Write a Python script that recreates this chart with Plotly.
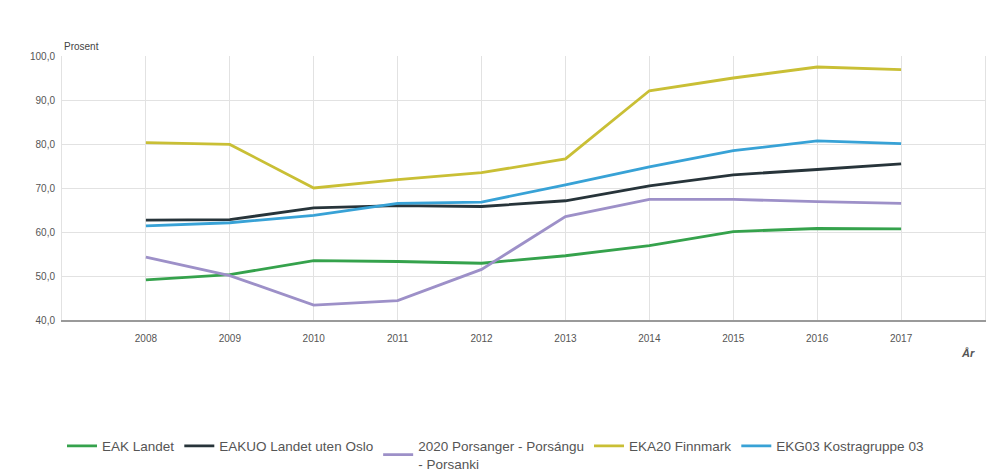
import plotly.graph_objects as go

years = [2008, 2009, 2010, 2011, 2012, 2013, 2014, 2015, 2016, 2017]

eak_landet = [49.1, 50.3, 53.5, 53.3, 52.9, 54.6, 56.9, 60.1, 60.8, 60.7]
eakuo_uten_oslo = [62.7, 62.8, 65.5, 66.0, 65.8, 67.1, 70.5, 73.0, 74.2, 75.5]
porsanger = [54.3, 50.1, 43.4, 44.4, 51.5, 63.5, 67.4, 67.4, 66.9, 66.5]
finnmark = [80.3, 79.9, 70.0, 71.9, 73.5, 76.6, 92.1, 95.0, 97.5, 96.9]
kostragruppe = [61.4, 62.1, 63.8, 66.5, 66.8, 70.7, 74.8, 78.5, 80.7, 80.1]

series_names = [
    "EAK Landet",
    "EAKUO Landet uten Oslo",
    "2020 Porsanger - Porsángu<br>- Porsanki",
    "EKA20 Finnmark",
    "EKG03 Kostragruppe 03",
]
series_values = [eak_landet, eakuo_uten_oslo, porsanger, finnmark, kostragruppe]
series_colors = ["#35a24c", "#27343a", "#9d90c8", "#c9bf35", "#38a2d6"]

y_ticks = [40, 50, 60, 70, 80, 90, 100]
y_tick_text = ["40,0", "50,0", "60,0", "70,0", "80,0", "90,0", "100,0"]

FONT = "Liberation Sans, Arial, sans-serif"

fig = go.Figure()
for name, vals, color in zip(series_names, series_values, series_colors):
    fig.add_trace(go.Scatter(
        x=years, y=vals, name=name, mode="lines",
        line=dict(color=color, width=2.8),
    ))

fig.update_layout(
    width=990, height=473,
    margin=dict(l=62, r=5, t=56, b=153),
    paper_bgcolor="white", plot_bgcolor="white",
    font=dict(family=FONT, size=10, color="#555"),
    showlegend=True,
    legend=dict(
        orientation="h", x=0.0, xanchor="left",
        yref="container", y=0.038, yanchor="middle",
        font=dict(family=FONT, size=13.5, color="#555"),
        itemwidth=30, tracegroupgap=0,
    ),
    xaxis=dict(
        range=[2007, 2018], tickvals=years, ticktext=[str(y) for y in years],
        showgrid=True, gridcolor="#e2e2e2", gridwidth=1,
        showline=True, linecolor="#9a9a9a", linewidth=2,
        zeroline=False, ticks="", ticklabelstandoff=8,
        tickfont=dict(family=FONT, size=10, color="#555"),
    ),
    yaxis=dict(
        range=[40, 100], tickvals=y_ticks, ticktext=y_tick_text,
        showgrid=True, gridcolor="#e2e2e2", gridwidth=1,
        showline=True, linecolor="#e2e2e2", linewidth=1, mirror=True,
        zeroline=False, ticks="", ticklabelstandoff=4,
        tickfont=dict(family=FONT, size=10, color="#555"),
    ),
    annotations=[
        dict(text="Prosent", xref="paper", yref="paper", x=0.0, y=1.0,
             xanchor="left", yanchor="bottom", yshift=2, showarrow=False,
             font=dict(family=FONT, size=10, color="#444")),
        dict(text="<b><i>År</i></b>", xref="paper", yref="paper", x=0.982, y=-0.125,
             xanchor="center", yanchor="middle", showarrow=False,
             font=dict(family=FONT, size=11, color="#555")),
    ],
)

fig.write_html("out.html")
